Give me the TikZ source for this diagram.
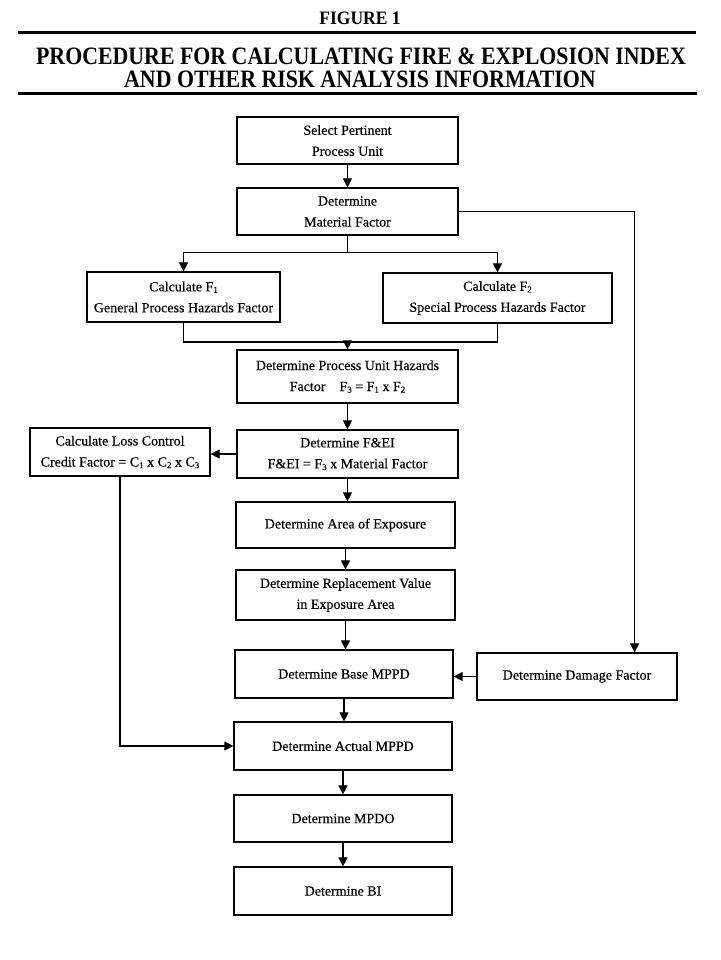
\documentclass[tikz,border=0pt]{standalone}
\usepackage{fontspec}
\setmainfont{Liberation Serif}
\newfontfamily\boxfont{Liberation Serif}[FakeBold=0.35]
\usetikzlibrary{arrows.meta,calc}
\newcommand{\sub}[1]{\raisebox{-0.25ex}{\fontsize{9}{9}\selectfont #1}}
\tikzset{
  box/.style={draw, line width=1.2pt, align=center, inner sep=0pt, font=\boxfont\fontsize{14}{21}\selectfont},
  mainbox/.style={box, minimum width=221pt, minimum height=47pt},
  arr/.style={line width=1.1pt, -{Triangle[length=9pt,width=9pt]}},
  ln/.style={line width=1.1pt},
  rule/.style={line width=3pt},
  ttl/.style={font=\bfseries\fontsize{25}{25}\selectfont, inner sep=0pt}
}
\begin{document}
\begin{tikzpicture}[x=1pt,y=-1pt]
\useasboundingbox (0,0) rectangle (720,960);
\fill[white] (0,0) rectangle (720,960);
% title
\node[font=\bfseries\fontsize{19}{19}\selectfont, inner sep=0pt] (fig) at (360,18) {\scalebox{0.92}[1]{FIGURE 1}};
\draw[rule] (18,33) -- (696,33);
\node[ttl] (t1) at (361,56) {\scalebox{0.875}[1]{PROCEDURE FOR CALCULATING FIRE \& EXPLOSION INDEX}};
\node[ttl] (t2) at (360,79) {\scalebox{0.875}[1]{AND OTHER RISK ANALYSIS INFORMATION}};
\draw[rule] (18,94) -- (697,94);
% boxes
\node[mainbox] (sel) at (347.5,140.5) {Select Pertinent\\Process Unit};
\node[mainbox] (mat) at (347.5,211.5) {Determine\\Material Factor};
\node[box, minimum width=193pt, minimum height=50pt] (f1) at (183.5,297) {Calculate F\sub{1}\\General Process Hazards Factor};
\node[box, minimum width=229pt, minimum height=50pt] (f2) at (497.5,298) {Calculate F\sub{2}\\Special Process Hazards Factor};
\node[mainbox, minimum height=53pt] (f3) at (347.5,376.5) {Determine Process Unit Hazards\\Factor\quad F\sub{3} = F\sub{1} x F\sub{2}};
\node[mainbox, minimum height=48pt] (fei) at (347.5,454) {Determine F\&EI\\F\&EI = F\sub{3} x Material Factor};
\node[box, minimum width=180pt, minimum height=48pt] (loss) at (120,452) {Calculate Loss Control\\Credit Factor = C\sub{1} x C\sub{2} x C\sub{3}};
\node[mainbox, minimum width=219pt, minimum height=46pt] (area) at (345.5,525) {Determine Area of Exposure};
\node[mainbox, minimum width=219pt, minimum height=50pt] (repl) at (345.5,595) {Determine Replacement Value\\in Exposure Area};
\node[mainbox, minimum width=218pt, minimum height=48pt] (base) at (344,674) {Determine Base MPPD};
\node[box, minimum width=200pt, minimum height=47pt] (dmg) at (577,676.5) {Determine Damage Factor};
\node[mainbox, minimum width=218pt, minimum height=48pt] (act) at (343,746) {Determine Actual MPPD};
\node[mainbox, minimum width=218pt, minimum height=47pt] (mpdo) at (343,818.5) {Determine MPDO};
\node[mainbox, minimum width=218pt, minimum height=48pt] (bi) at (343,891) {Determine BI};
% connectors
\draw[arr] (sel) -- (mat);
\draw[arr] (mat.east) -| ([xshift=-43pt]dmg.north east);
\draw[ln] (mat.south) -- ++(0,17) coordinate (br);
\draw[arr] (br) -| (f1.north);
\draw[arr] (br) -| (f2.north);
\draw[ln] (f1.south) |- (f2.south |- 0,342) coordinate (jn);
\draw[ln] (f2.south) -- (jn);
\draw[arr] (f3.north |- jn) -- (f3.north);
\draw[arr] (f3) -- (fei);
\draw[arr] (fei.west) -- (loss.east |- fei.west);
\draw[arr] (fei.south) -- (area.north -| fei.south);
\draw[arr] (area.south) -- (repl.north);
\draw[arr] (repl.south) -- (repl.south |- base.north);
\draw[arr] (dmg.west) -- (base.east |- dmg.west);
\draw[arr] (base.south) -- (base.south |- act.north);
\draw[arr] (loss.south) |- (act.west);
\draw[arr] (act) -- (mpdo);
\draw[arr] (mpdo) -- (bi);
\end{tikzpicture}
\end{document}
